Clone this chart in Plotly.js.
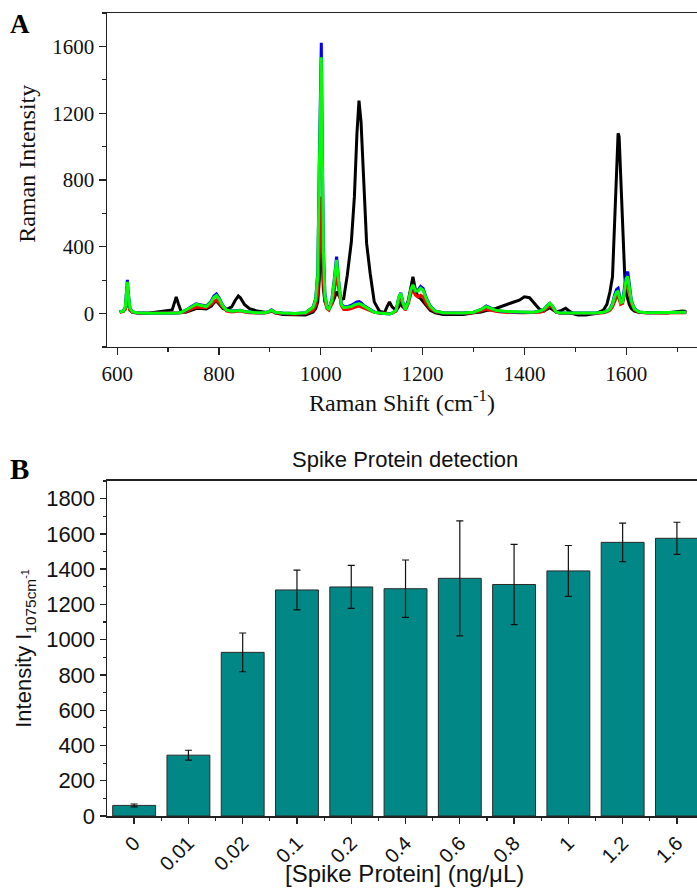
<!DOCTYPE html>
<html>
<head>
<meta charset="utf-8">
<script src="https://cdn.plot.ly/plotly-3.0.1.min.js"></script>
<style>
html,body{margin:0;padding:0;background:#fff;}
#chart{width:697px;height:888px;}
</style>
</head>
<body>
<div id="chart"></div>
<script>
// ---------- Panel A: Raman spectra ----------
const ramanShift = [
  605, 612, 616, 619, 620, 622, 625, 630, 640, 660,
  680, 690, 700, 708, 713, 716, 720, 726, 735, 745,
  755, 765, 775, 785, 790, 795, 800, 808, 815, 825,
  832, 838, 842, 850, 860, 875, 890, 897, 903, 910,
  925, 950, 970, 985, 990, 994, 997, 999, 1001, 1003,
  1005, 1008, 1012, 1016, 1022, 1027, 1031, 1035, 1040, 1045,
  1052, 1060, 1066, 1071, 1075, 1079, 1084, 1090, 1097, 1105,
  1115, 1125, 1130, 1135, 1140, 1148, 1153, 1157, 1161, 1166,
  1172, 1177, 1181, 1186, 1191, 1196, 1201, 1207, 1215, 1225,
  1240, 1260, 1280, 1300, 1315, 1325, 1335, 1345, 1360, 1375,
  1390, 1400, 1410, 1420, 1430, 1438, 1445, 1450, 1455, 1462,
  1470, 1476, 1481, 1486, 1495, 1505, 1520, 1540, 1555, 1562,
  1568, 1573, 1577, 1581, 1584, 1586, 1589, 1593, 1597, 1600,
  1603, 1606, 1610, 1616, 1625, 1640, 1660, 1680, 1700, 1710,
  1718
];
const spectrumBlack = [
  10, 15, 30, 65, 75, 55, 20, 8, 3, 2,
  10, 18, 18, 22, 70, 100, 60, 10, 8, 20,
  30, 30, 28, 45, 65, 75, 60, 30, 25, 40,
  80, 105, 95, 55, 30, 15, 8, 10, 18, 5,
  -5, -8, -8, 10, 30, 70, 200, 420, 500, 300,
  150, 70, 45, 40, 60, 95, 130, 110, 85, 90,
  230, 430, 700, 1080, 1275, 1150, 780, 420, 240, 70,
  15, 5, 40, 70, 40, 20, 40, 60, 40, 30,
  80, 170, 220, 140, 100, 90, 70, 50, 20, 5,
  -5, -5, -5, 5, 10, 18, 22, 32, 50, 65,
  80, 100, 95, 60, 25, 15, 25, 35, 25, 10,
  15, 25, 32, 20, 0, -8, -8, 0, 20, 55,
  130, 220, 520, 900, 1080, 1060, 820, 540, 230, 120,
  80, 55, 30, 15, 8, 5, 5, 3, 10, 15,
  12
];
const spectrumRed = [
  8, 12, 25, 80, 90, 60, 20, 8, 3, 2,
  2, 2, 3, 3, 3, 3, 3, 5, 12, 25,
  40, 38, 35, 55, 72, 82, 65, 35, 15, 10,
  12, 15, 15, 10, 5, 3, 3, 8, 15, 5,
  0, -3, 0, 20, 50, 120, 350, 620, 700, 450,
  200, 80, 30, 20, 60, 150, 240, 150, 50, 25,
  25, 30, 38, 42, 45, 40, 32, 25, 15, 8,
  3, 0, 0, 0, 2, 15, 80, 105, 60, 20,
  60, 120, 140, 110, 100, 110, 100, 60, 30, 10,
  3, 2, 2, 5, 15, 25, 20, 12, 8, 5,
  5, 5, 5, 5, 8, 15, 35, 50, 35, 8,
  2, 2, 2, 2, 0, 0, 0, 0, 5, 10,
  20, 40, 70, 100, 110, 90, 55, 60, 130, 180,
  200, 140, 60, 25, 8, 3, 3, 3, 5, 5,
  5
];
const spectrumBlue = [
  10, 15, 40, 170, 202, 120, 35, 10, 5, 2,
  3, 3, 3, 3, 3, 3, 3, 8, 20, 40,
  58, 52, 45, 75, 105, 118, 95, 45, 22, 15,
  18, 22, 20, 12, 8, 5, 5, 10, 22, 8,
  3, 0, 5, 40, 90, 250, 900, 1450, 1622, 1000,
  400, 120, 40, 25, 90, 220, 341, 200, 60, 40,
  42, 50, 62, 70, 72, 65, 50, 38, 22, 10,
  3, 0, -2, -3, 2, 20, 95, 125, 70, 25,
  70, 140, 168, 135, 140, 162, 150, 95, 45, 15,
  5, 3, 3, 8, 25, 45, 30, 18, 12, 8,
  8, 8, 8, 10, 15, 25, 50, 62, 45, 10,
  3, 3, 3, 3, 2, 2, 2, 3, 8, 15,
  30, 60, 110, 145, 152, 125, 70, 75, 170, 235,
  251, 180, 80, 30, 10, 5, 5, 5, 8, 8,
  8
];
const spectrumGreen = [
  10, 15, 38, 160, 190, 115, 32, 10, 5, 2,
  3, 3, 3, 3, 3, 3, 3, 8, 20, 38,
  55, 50, 42, 70, 98, 108, 88, 42, 20, 14,
  17, 20, 18, 12, 8, 5, 5, 10, 20, 8,
  3, 0, 5, 38, 85, 230, 850, 1380, 1535, 950,
  380, 110, 38, 22, 85, 210, 321, 190, 55, 35,
  37, 42, 52, 58, 60, 55, 45, 33, 20, 8,
  3, 0, -2, -3, 2, 20, 95, 122, 68, 25,
  70, 145, 172, 135, 135, 152, 140, 90, 42, 14,
  5, 3, 3, 8, 25, 42, 28, 18, 14, 12,
  10, 8, 8, 10, 15, 25, 48, 62, 45, 10,
  3, 3, 3, 3, 2, 2, 2, 3, 8, 14,
  28, 55, 100, 128, 132, 110, 65, 70, 155, 210,
  222, 165, 75, 28, 10, 5, 5, 5, 8, 8,
  8
];

// ---------- Panel B: bar chart ----------
const concentrations = ['0', '0.01', '0.02', '0.1', '0.2', '0.4', '0.6', '0.8', '1', '1.2', '1.6'];
const intensity1075  = [60, 345, 928, 1282, 1299, 1289, 1348, 1313, 1390, 1552, 1575];
const intensityError = [8, 28, 110, 113, 122, 163, 326, 228, 144, 109, 91];

const serif = 'Liberation Serif, Times New Roman, serif';
const sans = 'Liberation Sans, Arial, sans-serif';

const catIdx = concentrations.map((c, i) => i);
const catBoundaries = concentrations.slice(1).map((c, i) => i + 0.5);

function specTrace(y, color) {
  return {x: ramanShift, y: y, type: 'scatter', mode: 'lines',
          line: {color: color, width: 3}, xaxis: 'x', yaxis: 'y',
          hoverinfo: 'skip', showlegend: false};
}

const traces = [
  specTrace(spectrumBlack, '#000000'),
  specTrace(spectrumRed, '#ff0000'),
  specTrace(spectrumBlue, '#0000ff'),
  specTrace(spectrumGreen, '#00ff00'),
  {
    x: catIdx, y: intensity1075, type: 'bar', xaxis: 'x2', yaxis: 'y2',
    marker: {color: '#008786', line: {color: '#2a2a2a', width: 1}},
    error_y: {type: 'data', array: intensityError, visible: true,
              color: '#111111', thickness: 1.2, width: 3.5},
    showlegend: false
  }
];

const axLine = {showline: true, linecolor: '#222', linewidth: 1.5, zeroline: false, showgrid: false};

const layout = {
  width: 697, height: 888,
  margin: {l: 107, r: 0, t: 13, b: 72},
  paper_bgcolor: '#fff', plot_bgcolor: '#fff',
  showlegend: false,
  bargap: 0.21,
  xaxis: Object.assign({}, axLine, {
    domain: [0, 1], anchor: 'y', range: [580, 1739],
    tick0: 600, dtick: 200, ticks: 'outside', ticklen: 7, tickwidth: 1.3, tickcolor: '#222',
    minor: {dtick: 100, tick0: 600, ticks: 'outside', ticklen: 4, tickwidth: 1.2, tickcolor: '#222'},
    mirror: true,
    tickfont: {family: serif, size: 21, color: '#111'},
    title: {text: 'Raman Shift (cm<sup>-1</sup>)', font: {family: serif, size: 24, color: '#111'}, standoff: 6}
  }),
  yaxis: Object.assign({}, axLine, {
    domain: [0.5841, 1], anchor: 'x', range: [-200, 1800],
    tick0: 0, dtick: 400, ticks: 'outside', ticklen: 7, tickwidth: 1.3, tickcolor: '#222',
    minor: {dtick: 200, tick0: 0, ticks: 'outside', ticklen: 4, tickwidth: 1.2, tickcolor: '#222'},
    tickfont: {family: serif, size: 21, color: '#111'}
  }),
  xaxis2: Object.assign({}, axLine, {
    domain: [0, 1], anchor: 'y2', range: [-0.5, 10.37],
    tickmode: 'array', tickvals: catIdx, ticktext: concentrations, tickangle: -45,
    ticks: 'outside', ticklen: 6, tickwidth: 1.3, tickcolor: '#222',
    minor: {tickmode: 'array', tickvals: catBoundaries, ticks: 'outside', ticklen: 3, tickwidth: 1.2, tickcolor: '#222'},
    mirror: true,
    tickfont: {family: sans, size: 20, color: '#111'}
  }),
  yaxis2: Object.assign({}, axLine, {
    domain: [0, 0.4172], anchor: 'x2', range: [0, 1900],
    tick0: 0, dtick: 200, ticks: 'outside', ticklen: 6, tickwidth: 1.3, tickcolor: '#222',
    minor: {dtick: 100, tick0: 0, ticks: 'outside', ticklen: 3, tickwidth: 1.2, tickcolor: '#222'},
    tickfont: {family: sans, size: 22, color: '#111'},
    title: {text: 'Intensity I<sub>1075cm<sup>-1</sup></sub>', font: {family: sans, size: 22, color: '#111'}, standoff: 8}
  }),
  annotations: [
    {text: 'Raman Intensity', xref: 'paper', yref: 'paper', x: -0.136, y: 0.812, xanchor: 'center', yanchor: 'middle',
     textangle: -90, showarrow: false, font: {family: serif, size: 24, color: '#111'}},
    {text: '[Spike Protein] (ng/μL)', xref: 'paper', yref: 'paper', x: 0.505, y: -0.0715, xanchor: 'center', yanchor: 'middle',
     borderpad: 0, showarrow: false, font: {family: sans, size: 24, color: '#111'}},
    {text: '<b>A</b>', xref: 'paper', yref: 'paper', x: -0.168, y: 0.986, xanchor: 'left', yanchor: 'middle',
     showarrow: false, font: {family: serif, size: 27, color: '#000'}},
    {text: '<b>B</b>', xref: 'paper', yref: 'paper', x: -0.168, y: 0.432, xanchor: 'left', yanchor: 'middle',
     showarrow: false, font: {family: serif, size: 29, color: '#000'}},
    {text: 'Spike Protein detection', xref: 'paper', yref: 'paper', x: 0.505, y: 0.4435, xanchor: 'center', yanchor: 'middle',
     showarrow: false, font: {family: sans, size: 22, color: '#111'}}
  ]
};

Plotly.newPlot('chart', traces, layout, {displayModeBar: false, staticPlot: true});
</script>
</body>
</html>
